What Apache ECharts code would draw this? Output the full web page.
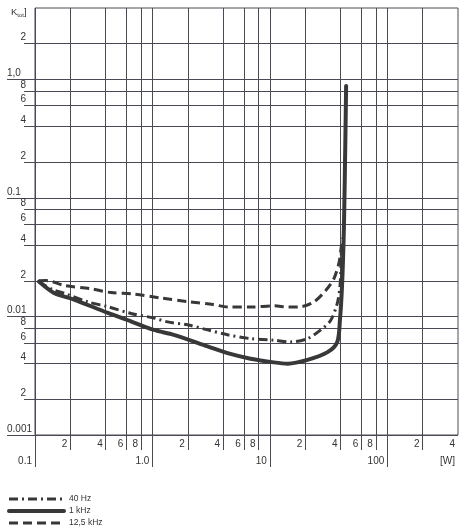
<!DOCTYPE html>
<html><head><meta charset="utf-8">
<script src="https://cdn.jsdelivr.net/npm/echarts@6/dist/echarts.min.js"></script>
<style>html,body{margin:0;padding:0;background:#fff}#c{width:461px;height:528px}</style>
</head><body><div id="c"></div>
<script>
// ---- axis values ----
const xGridTicks = [0.1,0.2,0.4,0.6,0.8,1,2,4,6,8,10,20,40,60,80,100,200];
const xDecadeTicks = [0.1,1,10,100];
const xMinorLabels = [0.2,0.4,0.6,0.8,2,4,6,8,20,40,60,80,200,400];
const xMajorLabels = [0.1,1,10,100,400];
const xMajorText = ["0.1","1.0","10","100","[W]"];
const yGridTicks = [0.001,0.002,0.004,0.006,0.008,0.01,0.02,0.04,0.06,0.08,0.1,0.2,0.4,0.6,0.8,1,2];
const yDecadeTicks = [0.001,0.01,0.1,1];
const yMinorLabels = [0.002,0.004,0.006,0.008,0.02,0.04,0.06,0.08,0.2,0.4,0.6,0.8,2];
const yMajorLabels = [0.001,0.01,0.1,1];
const yMajorText = ["0.001","0.01","0.1","1,0"];

// ---- series data: [power W, K_tot] ----
const hz40 = [[0.108,0.0197],[0.1125,0.0191],[0.145,0.0167],[0.177,0.0157],[0.28,0.0133],[0.415,0.0121],[0.655,0.0106],[1.03,0.0097],[1.345,0.0090],[1.99,0.0085],[2.95,0.0077],[4.37,0.0070],[6.85,0.0065],[10.8,0.0063],[15,0.0061],[20.9,0.0065],[27.1,0.0077],[33,0.0093],[37.5,0.0129],[39.5,0.0178],[40.3,0.0263],[40.8,0.0388]];
const khz1 = [[0.108,0.0197],[0.145,0.0158],[0.215,0.0139],[0.418,0.0107],[0.655,0.0091],[1.03,0.0077],[1.52,0.0070],[2.95,0.0056],[4.37,0.0049],[6.85,0.0044],[10.8,0.0041],[14.2,0.0040],[20.9,0.0043],[31,0.0050],[37.5,0.0061],[39.5,0.0093],[41,0.0167],[42.2,0.036],[43,0.079],[43.8,0.25],[44.6,0.88]];
const khz125 = [[0.108,0.0200],[0.124,0.0201],[0.177,0.0183],[0.30,0.0171],[0.444,0.0159],[0.684,0.0155],[1.18,0.0143],[2.05,0.0133],[3.28,0.0126],[4.41,0.0120],[6.92,0.0120],[10.9,0.0123],[14.3,0.0120],[18.4,0.0121],[23.8,0.0133],[30.1,0.0167],[35.2,0.0210],[38.9,0.0288],[40.5,0.0386],[41.3,0.046]];
const seriesNames = ["40 Hz","1 kHz","12,5 kHz"];

const GRID = '#4a4a54', TXT = '#333', INK = '#383838';
const FONT = 'Liberation Sans';
function digit(v){ const e = Math.floor(Math.log10(v) + 1e-9); return String(Math.round(v / Math.pow(10, e))); }
function findText(vals, txt, v){ for (let i=0;i<vals.length;i++){ if (Math.abs(vals[i]-v)/vals[i] < 1e-6) return txt[i]; } return ''; }

const chart = echarts.init(document.getElementById('c'), null, {renderer:'canvas'});
const xBase = {type:'log', logBase:10, min:0.1, max:400, gridIndex:0, position:'bottom', axisLine:{show:false}};
const yBase = {type:'log', logBase:10, min:0.001, max:4, gridIndex:0, position:'left', axisLine:{show:false}};
chart.setOption({
  animation:false,
  backgroundColor:'#fff',
  grid:{left:35, top:8, width:423, height:427, show:true, borderColor:GRID, borderWidth:1, backgroundColor:'transparent'},
  xAxis:[
    Object.assign({}, xBase, {
      axisTick:{show:true, inside:false, length:15, customValues:xGridTicks, lineStyle:{color:GRID, width:1}},
      splitLine:{show:true, lineStyle:{color:GRID, width:1}},
      axisLabel:{show:true, customValues:xMinorLabels, formatter:v=>digit(v), margin:4, align:'right', padding:[0,3,0,0], color:TXT, fontFamily:FONT, fontSize:10}
    }),
    Object.assign({}, xBase, {
      axisTick:{show:true, inside:false, length:32, customValues:xDecadeTicks, lineStyle:{color:GRID, width:1}},
      splitLine:{show:false},
      axisLabel:{show:true, customValues:xMajorLabels, formatter:v=>findText(xMajorLabels,xMajorText,v), margin:21, align:'right', padding:[0,3,0,0], color:TXT, fontFamily:FONT, fontSize:10}
    })
  ],
  yAxis:[
    Object.assign({}, yBase, {
      axisTick:{show:true, inside:false, length:11, customValues:yGridTicks, lineStyle:{color:GRID, width:1}},
      splitLine:{show:true, lineStyle:{color:GRID, width:1}},
      axisLabel:{show:true, customValues:yMinorLabels, formatter:v=>digit(v), margin:9, align:'right', verticalAlign:'bottom', padding:[0,0,1,0], color:TXT, fontFamily:FONT, fontSize:10}
    }),
    Object.assign({}, yBase, {
      axisTick:{show:true, inside:false, length:28, customValues:yDecadeTicks, lineStyle:{color:GRID, width:1}},
      splitLine:{show:false},
      axisLabel:{show:true, customValues:yMajorLabels, formatter:v=>findText(yMajorLabels,yMajorText,v), margin:28, align:'left', verticalAlign:'bottom', padding:[0,0,1,0], color:TXT, fontFamily:FONT, fontSize:10}
    })
  ],
  legend:{
    orient:'vertical', left:7, top:494, padding:0, height:40, itemWidth:55, itemHeight:10, itemGap:2,
    data:seriesNames,
    textStyle:{color:TXT, fontFamily:FONT, fontSize:8.5, lineHeight:10},
    itemStyle:{color:'transparent', borderWidth:0},
    lineStyle:{width:'inherit'}
  },
  graphic:[{
    type:'text', left:11, top:6,
    style:{text:'{k|K}{s|tot}{k|]}', rich:{k:{fontSize:9.5, fontFamily:FONT, fill:TXT, lineHeight:12}, s:{fontSize:6, fontFamily:FONT, fill:TXT, lineHeight:12, padding:[6,0,0,0]}}}
  }],
  series:[
    {name:seriesNames[0], type:'line', data:hz40, xAxisIndex:0, yAxisIndex:0, symbol:'none', smooth:0.3, lineStyle:{color:INK, width:3, type:[9,4,2,4]}, itemStyle:{color:INK}},
    {name:seriesNames[1], type:'line', data:khz1, xAxisIndex:0, yAxisIndex:0, symbol:'none', smooth:0.3, lineStyle:{color:INK, width:4, type:'solid', join:'round', cap:'round'}, itemStyle:{color:INK}},
    {name:seriesNames[2], type:'line', data:khz125, xAxisIndex:0, yAxisIndex:0, symbol:'none', smooth:0.3, lineStyle:{color:INK, width:3, type:[9,5]}, itemStyle:{color:INK}}
  ]
});
</script></body></html>
